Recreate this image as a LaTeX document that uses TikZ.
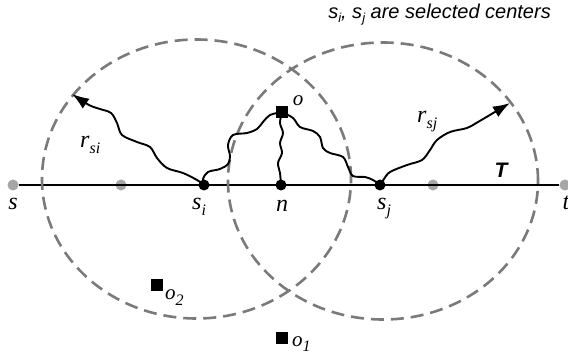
\documentclass[tikz,border=0pt]{standalone}
\usepackage{fontspec}
\setmainfont{Liberation Serif}
\setsansfont{Liberation Sans}
\usetikzlibrary{arrows.meta}
\newcommand\lsub[1]{\raisebox{-0.25em}{\fontsize{16}{16}\selectfont #1}}
\newcommand\tsub[1]{\raisebox{-0.2em}{\fontsize{13}{13}\selectfont #1}}
\begin{document}
\begin{tikzpicture}[x=1pt,y=-1pt,
  lbl/.style={font=\itshape\fontsize{24}{24}\selectfont, inner sep=0pt},
  olbl/.style={font=\itshape\fontsize{21}{21}\selectfont, inner sep=0pt},
  rng/.style={draw=black!52, line width=2.6pt, dash pattern=on 13pt off 7pt},
  wave/.style={draw=black, line width=1.9pt, line join=round},
  gdot/.style={circle, fill=black!35, inner sep=0pt, minimum size=11pt},
  bdot/.style={circle, fill=black, inner sep=0pt, minimum size=11pt},
  obj/.style={rectangle, fill=black, inner sep=0pt, minimum size=12pt},
  tip/.style={-{Latex[length=17pt,width=12pt]}}]
\useasboundingbox (0,0) rectangle (568,358);
% path T
\node[gdot] (s) at (13,185) {};
\node[gdot] (g1) at (121,185) {};
\node[gdot] (g2) at (433,185) {};
\node[gdot] (t) at (565,185) {};
\draw[line width=1.7pt] (s) -- (t);
% ranges
\draw[rng] (196.5,179) ellipse [x radius=154.5pt, y radius=139.5pt];
\draw[rng] (383,181) ellipse [x radius=155pt, y radius=138.5pt];
% nodes on T
\node[bdot] (si) at (204,185) {};
\node[bdot] (n) at (281,185) {};
\node[bdot] (sj) at (380,185) {};
% objects
\node[obj] (o) at (282,112) {};
\node[obj] (o2) at (157,285) {};
\node[obj] (o1) at (282,338) {};
\coordinate (rsitip) at (72,94);
\coordinate (rsjtip) at (510,103);
% wavy connectors
\draw[wave, tip] plot[smooth, tension=0.55] coordinates {(si) (197,180) (183,173) (167,168) (157,158) (150,147) (137,142) (122,135) (117,123) (111,113) (100,109) (89,105) (rsitip)};
\draw[wave] plot[smooth, tension=0.55] coordinates {(si) (203,179) (208,172) (220,169) (228,164) (230,156) (228,145) (233,135) (247,133) (257,129) (263,122) (270,115) (o)};
\draw[wave] plot[smooth, tension=0.55] coordinates {(o) (280,123) (283,133) (280,143) (282,153) (278,163) (280,173) (n)};
\draw[wave] plot[smooth, tension=0.55] coordinates {(o) (293,118) (300,127) (313,131) (320,137) (323,148) (330,153) (343,157) (348,167) (353,176) (365,177) (373,180) (sj)};
\draw[wave, tip] plot[smooth, tension=0.55] coordinates {(sj) (384,179) (390,172) (407,165) (422,160) (430,150) (437,140) (450,132) (467,128) (478,122) (rsjtip)};
% labels
\node[lbl] at (13,204) {s};
\node[lbl, anchor=base west] at (192,210) {s\lsub{i}};
\node[lbl] at (282,206) {n};
\node[lbl, anchor=base west] at (377,210) {s\lsub{j}};
\node[lbl] at (566,203) {t};
\node[olbl] at (298,101) {o};
\node[olbl, anchor=base west] at (165,300) {o\lsub{2}};
\node[olbl, anchor=base west] at (292,346) {o\lsub{1}};
\node[lbl, anchor=base west] at (80,148) {r\lsub{si}};
\node[lbl, anchor=base west] at (417,123) {r\lsub{sj}};
\node[font=\sffamily\bfseries\itshape\fontsize{21}{21}\selectfont, inner sep=0pt] at (501,170) {T};
\node[font=\sffamily\itshape\fontsize{20}{20}\selectfont, inner sep=0pt, anchor=base east] at (551,19) {s\tsub{i}, s\tsub{j} are selected centers};
\end{tikzpicture}
\end{document}
